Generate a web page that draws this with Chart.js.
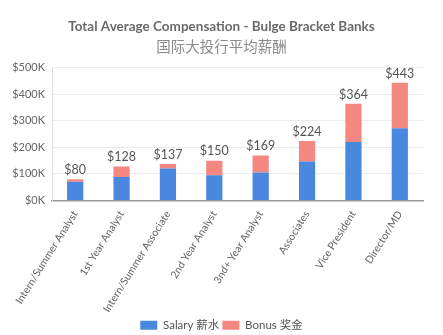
<!DOCTYPE html>
<html>
<head>
<meta charset="utf-8">
<script src="https://cdn.jsdelivr.net/npm/chart.js@4/dist/chart.umd.min.js"></script>
<style>
  html, body { margin: 0; padding: 0; background: #fff; }
  #wrap { width: 443px; height: 335px; }
</style>
</head>
<body>
<div id="wrap"><canvas id="compChart" width="443" height="335"></canvas></div>
<script>
// Average compensation by level, in $K
const levels = ['Intern/Summer Analyst', '1st Year Analyst', 'Intern/Summer Associate', '2nd Year Analyst',
  '3nd+ Year Analyst', 'Associates', 'Vice President', 'Director/MD'];
const salary = [71, 88, 120, 95, 105, 147, 220, 272];
const bonus = [9, 40, 17, 55, 64, 77, 144, 171];
const yTicks = [0, 100, 200, 300, 400, 500];

const FONT = "Lato, 'Noto Sans CJK SC', sans-serif";

// writes the stack total above each bar
const totalLabels = {
  id: 'totalLabels',
  afterDatasetsDraw(chart) {
    const ctx = chart.ctx;
    const top = chart.getDatasetMeta(1).data;
    ctx.save();
    ctx.font = '12.5px ' + FONT;
    ctx.fillStyle = '#555';
    ctx.textAlign = 'center';
    ctx.textBaseline = 'bottom';
    top.forEach((bar, i) => {
      ctx.fillText('$' + (salary[i] + bonus[i]), bar.x, bar.y - 3);
    });
    ctx.restore();
  }
};

new Chart(document.getElementById('compChart'), {
  type: 'bar',
  data: {
    labels: levels,
    datasets: [
      { label: 'Salary 薪水', data: salary, backgroundColor: '#4a88e0', barPercentage: 0.7, categoryPercentage: 0.5 },
      { label: 'Bonus 奖金', data: bonus, backgroundColor: '#f4877f', barPercentage: 0.7, categoryPercentage: 0.5 }
    ]
  },
  options: {
    responsive: false,
    animation: false,
    layout: { padding: { left: 0, right: 0, top: 0, bottom: -6 } },
    plugins: {
      title: {
        display: true,
        text: 'Total Average Compensation - Bulge Bracket Banks',
        color: '#6a6a6a',
        font: { family: FONT, size: 13.5, weight: 'bold' },
        padding: { top: 19, bottom: 3 }
      },
      subtitle: {
        display: true,
        text: '国际大投行平均薪酬',
        color: '#8a8a8a',
        font: { family: "'Noto Sans CJK SC', sans-serif", size: 14.5 },
        padding: { bottom: 12 }
      },
      legend: {
        position: 'bottom',
        labels: {
          color: '#555',
          font: { family: FONT, size: 11.5 },
          boxWidth: 17,
          boxHeight: 9,
          padding: 3
        }
      },
      tooltip: { enabled: false }
    },
    scales: {
      x: {
        stacked: true,
        grid: { display: false },
        border: { color: '#999', width: 1.5 },
        afterFit(axis) { axis.height = 116; },
        ticks: {
          color: '#666',
          font: { family: FONT, size: 10.5 },
          minRotation: 58,
          maxRotation: 58,
          padding: 0
        }
      },
      y: {
        stacked: true,
        min: 0,
        max: 500,
        afterBuildTicks(axis) { axis.ticks = yTicks.map(v => ({ value: v })); },
        afterFit(axis) { axis.width = 52; },
        grid: { color: '#ececec', drawTicks: false },
        border: { color: '#ddd' },
        ticks: {
          color: '#666',
          font: { family: FONT, size: 11 },
          padding: 7,
          callback: v => '$' + v + 'K'
        }
      },
      // empty right-hand axis, only keeps a margin beside the plot
      gap: {
        position: 'right',
        min: 0,
        max: 500,
        grid: { display: false },
        border: { display: false },
        ticks: { display: false },
        afterFit(axis) { axis.width = 20; }
      }
    }
  },
  plugins: [totalLabels]
});
</script>
</body>
</html>
